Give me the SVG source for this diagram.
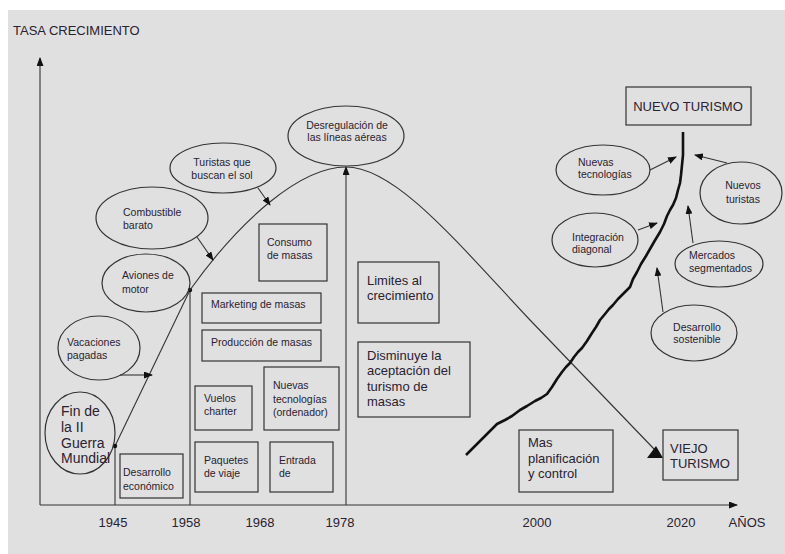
<svg xmlns="http://www.w3.org/2000/svg" width="785" height="554" viewBox="0 0 785 554">
<defs>
<style>
text{font-family:"Liberation Sans",Arial,sans-serif;fill:#2a2230}
.s{font-size:10.5px}
.m{font-size:13px}
.l{font-size:14px}
.c{text-anchor:middle}
.ln{fill:none;stroke:#333;stroke-width:1.1}
.bx{fill:none;stroke:#333;stroke-width:1.2}
.el{fill:none;stroke:#333;stroke-width:1.2}
</style>
<marker id="ar" markerUnits="userSpaceOnUse" markerWidth="9" markerHeight="7" refX="8" refY="3.5" orient="auto"><path d="M0,0 L9,3.5 L0,7 z" fill="#111"/></marker>
</defs>
<rect x="0" y="0" width="785" height="554" fill="#ffffff"/>
<rect x="8" y="10" width="777" height="544" fill="#e0e0e0"/>

<g id="axes">
<text class="m" x="13" y="35">TASA CRECIMIENTO</text>
<line class="ln" x1="40" y1="505" x2="40" y2="58" marker-end="url(#ar)"/>
<line class="ln" x1="40" y1="505" x2="737" y2="505" marker-end="url(#ar)"/>
<text class="m c" x="113" y="527">1945</text>
<text class="m c" x="186" y="527">1958</text>
<text class="m c" x="260" y="527">1968</text>
<text class="m c" x="340" y="527">1978</text>
<text class="m c" x="537" y="527">2000</text>
<text class="m c" x="681" y="527">2020</text>
<text class="m c" x="747" y="527">AÑOS</text>
</g>

<g id="connectors">
<line class="ln" x1="115" y1="505" x2="115" y2="446"/>
<line class="ln" x1="190" y1="505" x2="190" y2="290"/>
<line class="ln" x1="346" y1="505" x2="346" y2="167" marker-end="url(#ar)"/>
<line class="ln" x1="115" y1="446" x2="190" y2="290"/>
<circle cx="115" cy="446" r="2.2" fill="#111"/>
<circle cx="190" cy="290" r="2.2" fill="#111"/>
<path class="ln" d="M190,290 C240,220 300,167 346,167 C395,167 455,240 530,320 L655,450"/>
<polygon points="647,458 663,458 656,446" fill="#111"/>
<line class="ln" x1="120" y1="375" x2="152" y2="375" marker-end="url(#ar)"/>
<line class="ln" x1="197" y1="237" x2="213" y2="260" marker-end="url(#ar)"/>
<line class="ln" x1="258" y1="188" x2="270" y2="205" marker-end="url(#ar)"/>
<path d="M466,455 L475,446 L484,437 L490,431 L497,424 L505,420 L512,416 L520,410 L527,406 L535,401 L541,398 L547,394 L552,387 L557,379 L562,372 L566,367 L570,363 L574,357 L578,352 L582,348 L587,341 L592,333 L596,327 L600,320 L605,314 L609,309 L613,305 L618,299 L622,295 L626,291 L630,287 L633,279 L637,272 L641,264 L646,256 L650,249 L654,242 L657,237 L660,232 L664,224 L667,216 L670,210 L673,205 L676,198 L678,190 L680,183 L681,175 L682,165 L683,155 L683,132" fill="none" stroke="#111" stroke-width="2.6" stroke-linejoin="round"/>
<line class="ln" x1="650" y1="170" x2="676" y2="157" marker-end="url(#ar)"/>
<line class="ln" x1="727" y1="163" x2="695" y2="155" marker-end="url(#ar)"/>
<line class="ln" x1="638" y1="230" x2="657" y2="223" marker-end="url(#ar)"/>
<line class="ln" x1="693" y1="243" x2="688" y2="206" marker-end="url(#ar)"/>
<line class="ln" x1="663" y1="312" x2="657" y2="268" marker-end="url(#ar)"/>
</g>

<g id="fin-guerra"><ellipse class="el" cx="80" cy="433" rx="35" ry="41"/>
<text class="l" x="61" y="416">Fin de</text><text class="l" x="61" y="432">la II</text><text class="l" x="61" y="448">Guerra</text><text class="l" x="61" y="463">Mundial</text></g>
<g id="vacaciones"><ellipse class="el" cx="99" cy="348" rx="41" ry="32"/>
<text class="s" x="67" y="346">Vacaciones</text><text class="s" x="67" y="359">pagadas</text></g>
<g id="aviones"><ellipse class="el" cx="146" cy="283" rx="44" ry="29"/>
<text class="s" x="122" y="279">Aviones de</text><text class="s" x="122" y="293">motor</text></g>
<g id="combustible"><ellipse class="el" cx="152" cy="218" rx="56" ry="31"/>
<text class="s" x="123" y="216">Combustible</text><text class="s" x="123" y="229">barato</text></g>
<g id="turistas-sol"><ellipse class="el" cx="223" cy="168" rx="53" ry="25"/>
<text class="s c" x="222" y="166">Turistas que</text><text class="s c" x="222" y="179">buscan el sol</text></g>
<g id="desregulacion"><ellipse class="el" cx="346" cy="136" rx="58" ry="30"/>
<text class="s c" x="347" y="129">Desregulación de</text><text class="s c" x="347" y="141">las líneas aéreas</text></g>

<g id="desarrollo-economico"><rect class="bx" x="120" y="454" width="63" height="44"/>
<text class="s" x="123" y="476">Desarrollo</text><text class="s" x="123" y="490">económico</text></g>
<g id="consumo"><rect class="bx" x="259" y="224" width="68" height="57"/>
<text class="s" x="267" y="246">Consumo</text><text class="s" x="267" y="259">de masas</text></g>
<g id="marketing"><rect class="bx" x="202" y="293" width="119" height="30"/>
<text class="s" x="211" y="308">Marketing de masas</text></g>
<g id="produccion"><rect class="bx" x="202" y="330" width="119" height="31"/>
<text class="s" x="211" y="346">Producción de masas</text></g>
<g id="vuelos"><rect class="bx" x="195" y="386" width="57" height="44"/>
<text class="s" x="204" y="402">Vuelos</text><text class="s" x="204" y="415">charter</text></g>
<g id="nuevas-tec-ord"><rect class="bx" x="264" y="367" width="75" height="63"/>
<text class="s" x="273" y="389">Nuevas</text><text class="s" x="273" y="403">tecnologías</text><text class="s" x="273" y="416">(ordenador)</text></g>
<g id="paquetes"><rect class="bx" x="195" y="442" width="63" height="50"/>
<text class="s" x="204" y="464">Paquetes</text><text class="s" x="204" y="477">de viaje</text></g>
<g id="entrada"><rect class="bx" x="270" y="442" width="63" height="50"/>
<text class="s" x="279" y="464">Entrada</text><text class="s" x="279" y="477">de</text></g>
<g id="limites"><rect class="bx" x="358" y="262" width="81" height="61"/>
<text class="m" x="367" y="285">Limites al</text><text class="m" x="367" y="300">crecimiento</text></g>
<g id="disminuye"><rect class="bx" x="358" y="342" width="112" height="75"/>
<text class="m" x="367" y="360">Disminuye la</text><text class="m" x="367" y="375">aceptación del</text><text class="m" x="367" y="391">turismo de</text><text class="m" x="367" y="406">masas</text></g>
<g id="planificacion"><rect class="bx" x="519" y="430" width="94" height="62"/>
<text class="m" x="528" y="447">Mas</text><text class="m" x="528" y="463">planificación</text><text class="m" x="528" y="478">y control</text></g>
<g id="viejo-turismo"><rect class="bx" x="663" y="430" width="75" height="50"/>
<text class="m" x="670" y="453">VIEJO</text><text class="m" x="670" y="468">TURISMO</text></g>
<g id="nuevo-turismo"><rect class="bx" x="626" y="87" width="125" height="38"/>
<text class="m c" x="688" y="111">NUEVO TURISMO</text></g>

<g id="nuevas-tecnologias"><ellipse class="el" cx="603" cy="170" rx="47" ry="25"/>
<text class="s" x="578" y="166">Nuevas</text><text class="s" x="578" y="178">tecnologías</text></g>
<g id="nuevos-turistas"><ellipse class="el" cx="741" cy="193" rx="41" ry="31"/>
<text class="s c" x="743" y="189">Nuevos</text><text class="s c" x="743" y="203">turistas</text></g>
<g id="integracion"><ellipse class="el" cx="595" cy="240" rx="43" ry="27"/>
<text class="s" x="572" y="241">Integración</text><text class="s" x="572" y="253">diagonal</text></g>
<g id="mercados"><ellipse class="el" cx="719" cy="264" rx="44" ry="23"/>
<text class="s" x="689" y="259">Mercados</text><text class="s" x="689" y="272">segmentados</text></g>
<g id="sostenible"><ellipse class="el" cx="694" cy="333" rx="43" ry="28"/>
<text class="s c" x="697" y="331">Desarrollo</text><text class="s c" x="697" y="343">sostenible</text></g>
</svg>
